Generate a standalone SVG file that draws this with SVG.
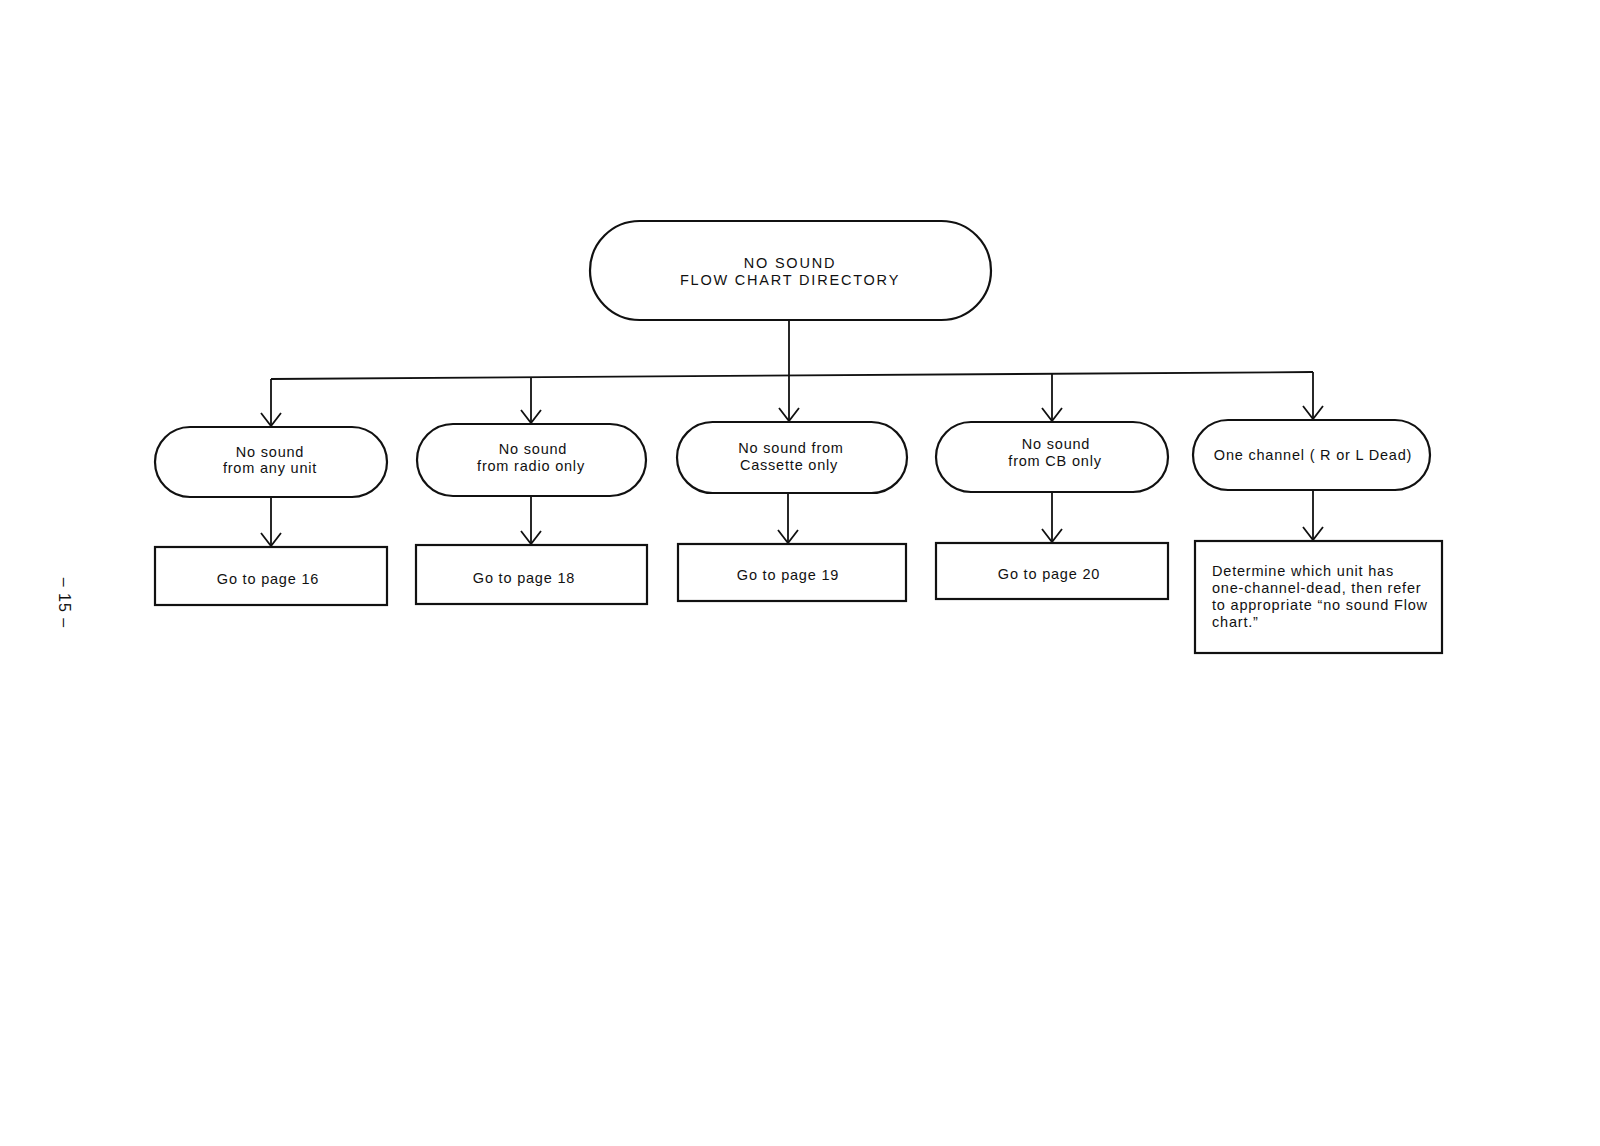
<svg xmlns="http://www.w3.org/2000/svg" width="1600" height="1146" viewBox="0 0 1600 1146">
<defs>
<style>
.n{fill:#fff;stroke:#111;stroke-width:2.2}
.c{fill:none;stroke:#111;stroke-width:1.8}
text{font-family:"Liberation Sans",Arial,sans-serif;font-size:14.5px;fill:#111;letter-spacing:0.8px}
.m{text-anchor:middle}
.t{letter-spacing:1.8px}
</style>
<marker id="ah" markerUnits="userSpaceOnUse" markerWidth="20" markerHeight="26" refX="14" refY="11" orient="auto" viewBox="0 0 20 22">
<path d="M1 1 L14 11 L1 21" fill="none" stroke="#111" stroke-width="1.8"/>
</marker>
</defs>
<rect width="1600" height="1146" fill="#fff"/>
<g id="connectors">
<line class="c" x1="789" y1="320" x2="789" y2="421" marker-end="url(#ah)"/>
<line class="c" x1="271" y1="379" x2="1313" y2="372"/>
<line class="c" x1="271" y1="379" x2="271" y2="426" marker-end="url(#ah)"/>
<line class="c" x1="531" y1="377" x2="531" y2="423" marker-end="url(#ah)"/>
<line class="c" x1="1052" y1="373" x2="1052" y2="421" marker-end="url(#ah)"/>
<line class="c" x1="1313" y1="372" x2="1313" y2="419" marker-end="url(#ah)"/>
<line class="c" x1="271" y1="497" x2="271" y2="546" marker-end="url(#ah)"/>
<line class="c" x1="531" y1="496" x2="531" y2="544" marker-end="url(#ah)"/>
<line class="c" x1="788" y1="493" x2="788" y2="543" marker-end="url(#ah)"/>
<line class="c" x1="1052" y1="492" x2="1052" y2="542" marker-end="url(#ah)"/>
<line class="c" x1="1313" y1="490" x2="1313" y2="540" marker-end="url(#ah)"/>
</g>
<g id="top">
<rect class="n" x="590" y="221" width="401" height="99" rx="49.5"/>
<text class="m t" x="790" y="268">NO SOUND</text>
<text class="m t" x="790" y="285">FLOW CHART DIRECTORY</text>
</g>
<g id="n1">
<rect class="n" x="155" y="427" width="232" height="70" rx="35"/>
<text class="m" x="270" y="457">No sound</text>
<text class="m" x="270" y="473">from any unit</text>
</g>
<g id="n2">
<rect class="n" x="417" y="424" width="229" height="72" rx="36"/>
<text class="m" x="533" y="454">No sound</text>
<text class="m" x="531" y="471">from radio only</text>
</g>
<g id="n3">
<rect class="n" x="677" y="422" width="230" height="71" rx="35.5"/>
<text class="m" x="791" y="453">No sound from</text>
<text class="m" x="789" y="470">Cassette only</text>
</g>
<g id="n4">
<rect class="n" x="936" y="422" width="232" height="70" rx="35"/>
<text class="m" x="1056" y="449">No sound</text>
<text class="m" x="1055" y="466">from CB only</text>
</g>
<g id="n5">
<rect class="n" x="1193" y="420" width="237" height="70" rx="35"/>
<text class="m" x="1313" y="460">One channel ( R or L Dead)</text>
</g>
<g id="b1">
<rect class="n" x="155" y="547" width="232" height="58"/>
<text class="m" x="268" y="584">Go to page 16</text>
</g>
<g id="b2">
<rect class="n" x="416" y="545" width="231" height="59"/>
<text class="m" x="524" y="583">Go to page 18</text>
</g>
<g id="b3">
<rect class="n" x="678" y="544" width="228" height="57"/>
<text class="m" x="788" y="580">Go to page 19</text>
</g>
<g id="b4">
<rect class="n" x="936" y="543" width="232" height="56"/>
<text class="m" x="1049" y="579">Go to page 20</text>
</g>
<g id="b5">
<rect class="n" x="1195" y="541" width="247" height="112"/>
<text x="1212" y="576">Determine which unit has</text>
<text x="1212" y="593">one-channel-dead, then refer</text>
<text x="1212" y="610">to appropriate “no sound  Flow</text>
<text x="1212" y="627">chart.”</text>
</g>
<text class="m" transform="translate(59,603) rotate(90)" style="font-size:16px;letter-spacing:1px">–  15  –</text>
</svg>
